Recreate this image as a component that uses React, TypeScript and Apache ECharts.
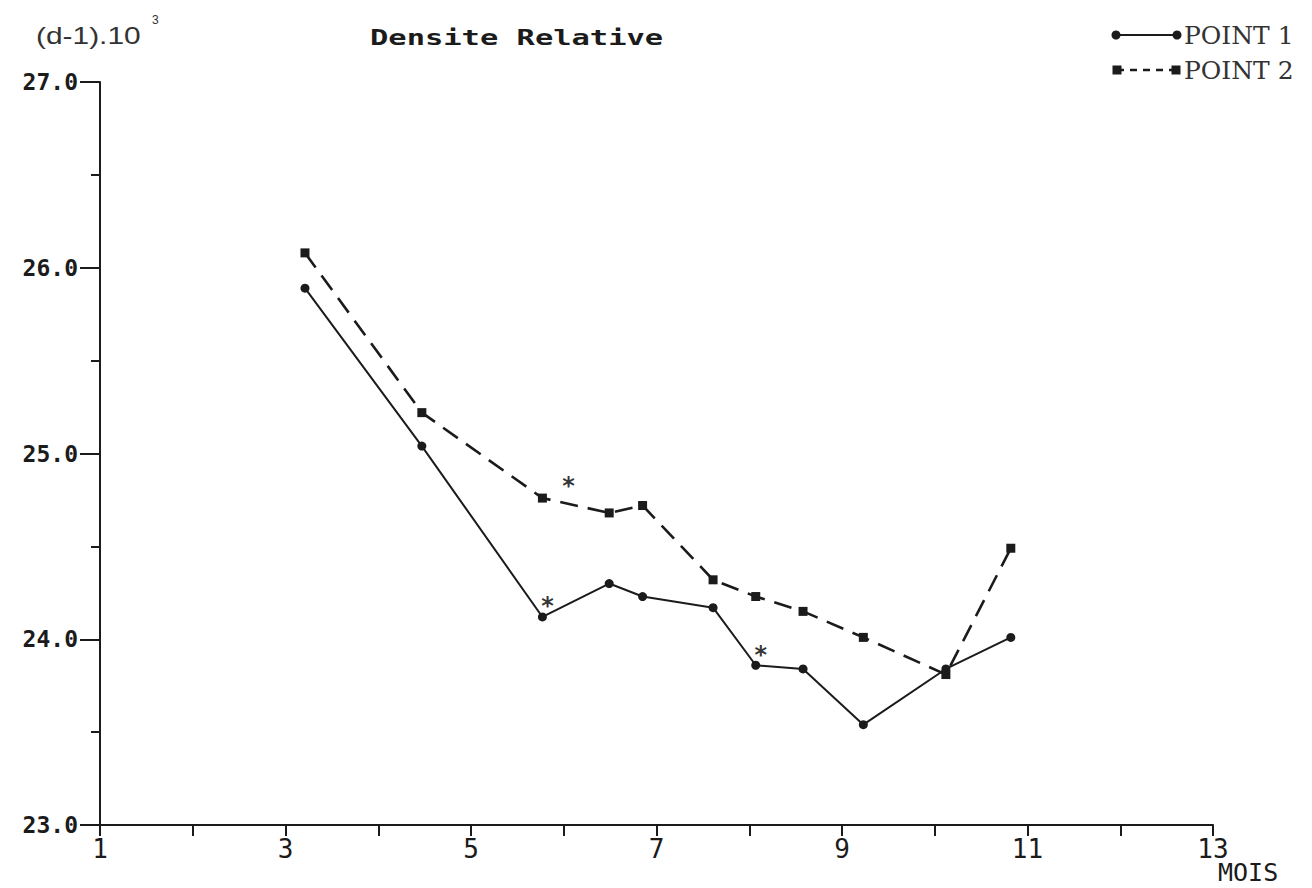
import React, { useEffect, useRef } from 'react';
import * as echarts from 'echarts';

// Sampling dates (months) shared by both stations
const months = [3.21, 4.47, 5.77, 6.49, 6.85, 7.61, 8.07, 8.58, 9.23, 10.12, 10.82];
// Relative density (d-1).10^3
const point1 = [25.89, 25.04, 24.12, 24.3, 24.23, 24.17, 23.86, 23.84, 23.54, 23.84, 24.01];
const point2 = [26.08, 25.22, 24.76, 24.68, 24.72, 24.32, 24.23, 24.15, 24.01, 23.81, 24.49];
// Samples marked with an asterisk (indices into the arrays above)
const flagged1 = [2, 6];
const flagged2 = [2];

const seriesNames = ['POINT 1', 'POINT 2'];
const yTitle = '(d-1).10';
const yTitleExp = '3';
const chartTitle = 'Densite Relative';
const xName = 'MOIS';

const INK = '#1b1b1b';
const MONO = '"DejaVu Sans Mono", monospace';

export default function App() {
  const ref = useRef<HTMLDivElement>(null);

  useEffect(() => {
    if (!ref.current) return;
    const chart = echarts.init(ref.current, undefined, { renderer: 'svg' });

    const starData = [
      ...flagged1.map((i) => ({
        value: [months[i], point1[i]],
        label: { offset: [5, 2] },
      })),
      ...flagged2.map((i) => ({
        value: [months[i], point2[i]],
        label: { offset: [26, 0] },
      })),
    ];

    chart.setOption({
      animation: false,
      backgroundColor: '#ffffff',
      grid: { left: 100, top: 82, right: 99, bottom: 63, containLabel: false },
      xAxis: {
        type: 'value',
        min: 1,
        max: 13,
        interval: 1,
        axisLine: { lineStyle: { color: INK, width: 2 } },
        axisTick: { length: 11, lineStyle: { color: INK, width: 2 } },
        splitLine: { show: false },
        axisLabel: {
          margin: 11,
          color: INK,
          fontFamily: MONO,
          fontSize: 26,
          formatter: (v: number) => (v % 2 === 1 ? String(v) : ''),
        },
      },
      yAxis: {
        type: 'value',
        min: 23,
        max: 27,
        interval: 1,
        axisLine: { show: true, lineStyle: { color: INK, width: 2 } },
        axisTick: { show: true, length: 20, lineStyle: { color: INK, width: 2 } },
        minorTick: { show: true, splitNumber: 2, length: 9, lineStyle: { color: INK, width: 2 } },
        splitLine: { show: false },
        minorSplitLine: { show: false },
        axisLabel: {
          margin: 22,
          color: INK,
          fontFamily: MONO,
          fontWeight: 'bold',
          fontSize: 23,
          formatter: (v: number) => v.toFixed(1),
        },
      },
      series: [
        {
          name: seriesNames[0],
          type: 'line',
          data: months.map((m, i) => [m, point1[i]]),
          symbol: 'circle',
          symbolSize: 9,
          lineStyle: { color: INK, width: 2 },
          itemStyle: { color: INK },
        },
        {
          name: seriesNames[1],
          type: 'line',
          data: months.map((m, i) => [m, point2[i]]),
          symbol: 'rect',
          symbolSize: 9,
          lineStyle: { color: INK, width: 2.6, type: [18, 10] },
          itemStyle: { color: INK },
        },
        {
          name: 'flags',
          type: 'scatter',
          data: starData,
          symbolSize: 1,
          itemStyle: { color: 'rgba(0,0,0,0)' },
          label: {
            show: true,
            position: 'top',
            distance: 0,
            formatter: '*',
            color: '#000',
            textBorderWidth: 0,
            fontFamily: '"DejaVu Sans", sans-serif',
            fontWeight: 'bold',
            fontSize: 24,
          },
          z: 5,
        },
      ],
      graphic: [
        {
          type: 'text',
          x: 36,
          y: 25,
          scaleX: 1.3,
          style: { text: yTitle, fill: '#333', font: '23px "Liberation Sans", sans-serif' },
        },
        {
          type: 'text',
          x: 152,
          y: 14,
          style: { text: yTitleExp, fill: '#333', font: '12px "Liberation Sans", sans-serif' },
        },
        {
          type: 'text',
          x: 370,
          y: 27,
          scaleX: 1.45,
          style: { text: chartTitle, fill: INK, font: 'bold 21px ' + MONO },
        },
        // legend: POINT 1
        { type: 'line', shape: { x1: 1116, y1: 35, x2: 1177, y2: 35 }, style: { stroke: INK, lineWidth: 2 } },
        { type: 'circle', shape: { cx: 1116, cy: 35, r: 4.5 }, style: { fill: INK } },
        { type: 'circle', shape: { cx: 1177, cy: 35, r: 4.5 }, style: { fill: INK } },
        {
          type: 'text',
          x: 1184,
          y: 23,
          style: { text: seriesNames[0], fill: '#333', font: '25px "DejaVu Serif", serif' },
        },
        // legend: POINT 2
        {
          type: 'line',
          shape: { x1: 1117, y1: 70, x2: 1176, y2: 70 },
          style: { stroke: INK, lineWidth: 2.4, lineDash: [7, 6] },
        },
        { type: 'rect', shape: { x: 1112.5, y: 65.5, width: 9, height: 9 }, style: { fill: INK } },
        { type: 'rect', shape: { x: 1171.5, y: 65.5, width: 9, height: 9 }, style: { fill: INK } },
        {
          type: 'text',
          x: 1184,
          y: 58,
          style: { text: seriesNames[1], fill: '#333', font: '25px "DejaVu Serif", serif' },
        },
        {
          type: 'text',
          x: 1218,
          y: 860,
          style: { text: xName, fill: INK, font: '25px ' + MONO },
        },
      ],
    });

    return () => chart.dispose();
  }, []);

  return (
    <div
      ref={ref}
      style={{ position: 'fixed', left: 0, top: 0, width: 1312, height: 888, background: '#fff' }}
    />
  );
}
